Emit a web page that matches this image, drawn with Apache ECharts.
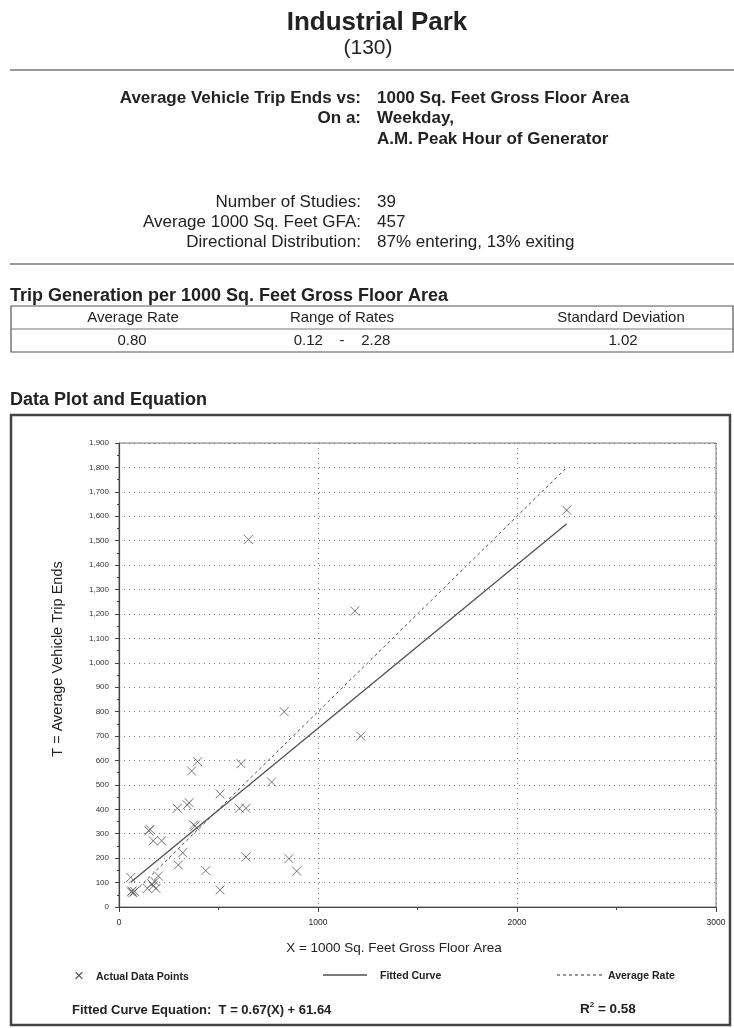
<!DOCTYPE html>
<html>
<head>
<meta charset="utf-8">
<script src="https://cdn.jsdelivr.net/npm/echarts@6/dist/echarts.min.js"></script>
<style>
html,body{margin:0;padding:0;background:#fff;}
#chart{width:734px;height:1028px;}
</style>
</head>
<body>
<div id="chart"></div>
<script>
// ---- data ----
const xArea = [59, 62, 70, 78, 66, 142, 172, 165, 181, 198, 186, 156, 150, 172, 214, 293, 352, 343, 508, 382,
  375, 320, 298, 436, 508, 365, 395, 613, 767, 605, 638, 638, 854, 893, 830, 650, 1185, 2250, 1215];
const tripEnds = [121, 62, 58, 64, 66, 76, 86, 95, 104, 127, 76, 318, 312, 271, 271, 404, 427, 418, 463, 332,
  336, 222, 172, 149, 70, 557, 595, 587, 512, 404, 404, 205, 198, 147, 800, 1505, 1212, 1625, 700];
const fitSlope = 0.67, fitIntercept = 61.64;   // fitted curve equation
const avgRate = 0.80;                          // average rate
const lineRange = [59, 2250];                  // min / max X of the data
const tableHeaders = ['Average Rate', 'Range of Rates', 'Standard Deviation'];
const tableValues = ['0.80', '0.12    -    2.28', '1.02'];
const xTicks = [0, 1000, 2000, 3000];
const yMax = 1900;

const points = xArea.map((x, i) => [x, tripEnds[i]]);
const fitLine = lineRange.map(x => [x, fitSlope * x + fitIntercept]);
const avgLine = lineRange.map(x => [x, avgRate * x]);

const FONT = '"Liberation Sans", Arial, Helvetica, sans-serif';
const TXT = '#222';
const LINE = '#505050';

function t(x, y, text, opts, extra) {
  return Object.assign({
    type: 'text', x: x, y: y,
    style: Object.assign({ text: text, fill: TXT, font: '13px ' + FONT, textAlign: 'left', textVerticalAlign: 'middle' }, opts || {})
  }, extra || {});
}
function hline(x1, x2, y, w, c) {
  return { type: 'line', shape: { x1: x1, y1: y, x2: x2, y2: y }, style: { stroke: c || '#666', lineWidth: w || 1 } };
}

const gfx = [
  t(377, 23, 'Industrial Park', { textAlign: 'center', font: 'bold 26px ' + FONT }),
  t(368, 48, '(130)', { textAlign: 'center', font: '21px ' + FONT }),
  hline(10, 734, 70, 1.5, '#777'),
  t(361, 98, 'Average Vehicle Trip Ends vs:', { textAlign: 'right', font: 'bold 17px ' + FONT }),
  t(377, 98, '1000 Sq. Feet Gross Floor Area', { font: 'bold 17px ' + FONT }),
  t(361, 118, 'On a:', { textAlign: 'right', font: 'bold 17px ' + FONT }),
  t(377, 118, 'Weekday,', { font: 'bold 17px ' + FONT }),
  t(377, 139, 'A.M. Peak Hour of Generator', { font: 'bold 17px ' + FONT }),
  t(361, 202, 'Number of Studies:', { textAlign: 'right', font: '17px ' + FONT }),
  t(377, 202, '39', { font: '17px ' + FONT }),
  t(361, 222, 'Average 1000 Sq. Feet GFA:', { textAlign: 'right', font: '17px ' + FONT }),
  t(377, 222, '457', { font: '17px ' + FONT }),
  t(361, 242, 'Directional Distribution:', { textAlign: 'right', font: '17px ' + FONT }),
  t(377, 242, '87% entering, 13% exiting', { font: '17px ' + FONT }),
  hline(10, 734, 264, 1.5, '#777'),
  t(10, 296, 'Trip Generation per 1000 Sq. Feet Gross Floor Area', { font: 'bold 18px ' + FONT }),
  { type: 'rect', shape: { x: 11, y: 306, width: 722, height: 46 }, style: { fill: 'none', stroke: '#555', lineWidth: 1.2 } },
  hline(11, 733, 329, 1, '#777'),
  t(133, 318, tableHeaders[0], { textAlign: 'center', font: '15px ' + FONT }),
  t(342, 318, tableHeaders[1], { textAlign: 'center', font: '15px ' + FONT }),
  t(621, 318, tableHeaders[2], { textAlign: 'center', font: '15px ' + FONT }),
  t(132, 341, tableValues[0], { textAlign: 'center', font: '15px ' + FONT }),
  t(342, 341, tableValues[1], { textAlign: 'center', font: '15px ' + FONT }),
  t(623, 341, tableValues[2], { textAlign: 'center', font: '15px ' + FONT }),
  t(10, 400, 'Data Plot and Equation', { font: 'bold 18px ' + FONT }),
  { type: 'rect', shape: { x: 11, y: 415, width: 719, height: 610 }, style: { fill: 'none', stroke: '#444', lineWidth: 2.5 } },
  t(394, 948, 'X = 1000 Sq. Feet Gross Floor Area', { textAlign: 'center', font: '13.5px ' + FONT }),
  t(58, 659, 'T = Average Vehicle Trip Ends', { textAlign: 'center', font: '14.5px ' + FONT }, { rotation: Math.PI / 2 }),
  // legend
  t(79, 976, '\u00D7', { textAlign: 'center', font: '17px ' + FONT, fill: '#555' }),
  t(96, 977, 'Actual Data Points', { font: 'bold 10.5px ' + FONT }),
  { type: 'line', shape: { x1: 323, y1: 975, x2: 367, y2: 975 }, style: { stroke: LINE, lineWidth: 1.3 } },
  t(380, 976, 'Fitted Curve', { font: 'bold 10.5px ' + FONT }),
  { type: 'line', shape: { x1: 557, y1: 975, x2: 603, y2: 975 }, style: { stroke: LINE, lineWidth: 1.2, lineDash: [3, 3] } },
  t(608, 976, 'Average Rate', { font: 'bold 10.5px ' + FONT }),
  t(72, 1010, 'Fitted Curve Equation:  T = 0.67(X) + 61.64', { font: 'bold 13px ' + FONT }),
  { type: 'text', x: 580, y: 1009, style: { text: '{a|R}{s|2}{a| = 0.58}', textVerticalAlign: 'middle', rich: { a: { font: 'bold 13.5px ' + FONT, fill: TXT }, s: { font: 'bold 8px ' + FONT, fill: TXT, verticalAlign: 'top', padding: [0, 0, 9, 0] } } } }
];

const chart = echarts.init(document.getElementById('chart'), null, { renderer: 'canvas' });
chart.setOption({
  backgroundColor: '#fff',
  animation: false,
  grid: { left: 119, top: 443, width: 597, height: 464, show: true, borderColor: '#777', borderWidth: 1 },
  xAxis: {
    type: 'value', min: xTicks[0], max: xTicks[xTicks.length - 1], interval: 1000,
    axisLine: { show: true, onZero: false, lineStyle: { color: '#444', width: 1.2 } },
    axisTick: { show: true, length: 5, inside: false, lineStyle: { color: '#444' } },
    minorTick: { show: true, splitNumber: 2, length: 3, lineStyle: { color: '#444' } },
    axisLabel: { color: TXT, fontSize: 8.5, fontFamily: FONT, margin: 11, formatter: v => String(v) },
    splitLine: { show: true, lineStyle: { color: '#808080', type: [1, 4], width: 1 } }
  },
  yAxis: {
    type: 'value', min: 0, max: yMax, interval: 100,
    axisLine: { show: true, lineStyle: { color: '#444', width: 1.2 } },
    axisTick: { show: true, length: 4, lineStyle: { color: '#444' } },
    minorTick: { show: true, splitNumber: 2, length: 2, lineStyle: { color: '#444' } },
    axisLabel: { color: '#333', fontSize: 8, fontFamily: FONT, margin: 10,
      formatter: v => v.toLocaleString('en-US') },
    splitLine: { show: true, lineStyle: { color: '#808080', type: [1, 4], width: 1 } }
  },
  series: [
    {
      type: 'scatter', data: points, symbol: 'path://M0,0L10,10M10,0L0,10', symbolSize: 9,
      itemStyle: { color: 'rgba(0,0,0,0)', borderColor: '#555', borderWidth: 1 }, z: 5
    },
    {
      type: 'line', data: fitLine, symbol: 'none', lineStyle: { color: LINE, width: 1.3 }
    },
    {
      type: 'line', data: avgLine, symbol: 'none', lineStyle: { color: LINE, width: 1, type: [3, 3] }
    }
  ],
  graphic: gfx
});
</script>
</body>
</html>
